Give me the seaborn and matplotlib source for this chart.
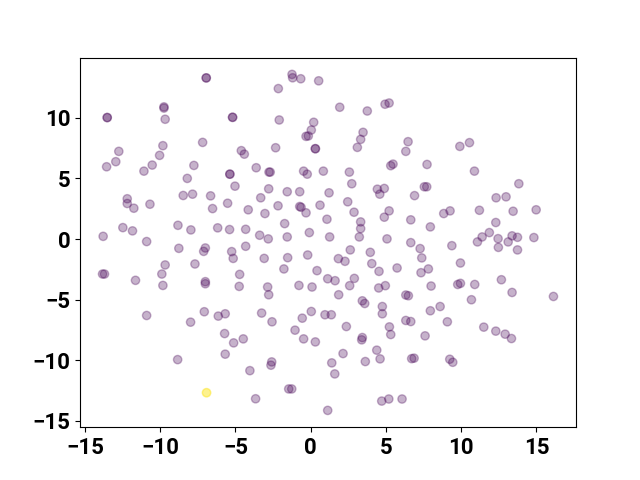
import matplotlib
matplotlib.use("Agg")
import matplotlib.pyplot as plt
import seaborn as sns
import pandas as pd
import numpy as np

xs = [
 -6.94,-6.94,-9.75,-9.75,-9.67,-13.52,-13.52,-5.19,-5.19,-7.18,-9.82,-10.04,-12.75,-12.95,-13.56,-10.53,-11.08,-7.76,-8.2,-4.61,-4.41,-5.37,-5.37,-5.03,-12.19,-12.19,-11.75,-10.68,-8.47,-7.85,-6.65,-5.52,-6.52,-4.15,-13.79,-12.48,-11.84,-10.9,-8.82,-7.96,-6.18,-5.39,-4.32,
 -1.24,-1.2,-0.66,0.53,-2.15,1.93,3.76,4.94,5.21,-2.09,0.2,0.04,-0.31,-0.16,0.31,0.31,3.48,3.32,3.1,6.47,6.32,-2.33,-3.62,-2.77,-2.69,-0.47,-0.23,0.84,2.57,2.73,5.32,5.47,4.43,4.89,4.59,6.9,-2.79,-3.32,-1.56,-0.73,1.22,-3.04,-2.17,-0.73,-0.64,-0.31,0.62,2.46,2.88,1.08,-1.73,-0.09,-3.39,-2.82,-1.56,1.26,3.32,3.32,3.23,4.89,5.21,5.07,6.65,6.65,
 9.91,10.55,7.73,10.88,7.55,7.71,13.83,12.32,12.98,8.84,9.26,11.21,13.45,14.98,7.95,12.3,11.87,11.39,11.08,12.45,13.38,13.74,13.12,14.83,
 -8.76,-7.0,-7.11,-5.25,-5.15,-4.32,-13.83,-13.7,-11.64,-9.67,-9.89,-9.82,-7.69,-7.0,-7.0,-4.72,-4.75,-10.9,-7.98,-7.07,-6.14,-5.68,-5.72,-5.12,-4.48,-5.68,-8.84,-4.04,
 -3.09,-1.53,-0.2,-1.78,0.42,1.84,2.28,2.63,3.96,4.06,4.54,5.74,-2.86,-2.79,-0.78,0.09,1.13,1.62,2.9,2.59,1.86,4.52,4.96,3.43,3.59,4.76,4.76,6.32,6.49,6.32,6.65,-3.26,-2.57,-1.04,-0.56,0.04,-0.47,0.31,0.95,1.37,2.37,3.43,3.39,5.23,5.32,4.39,4.61,2.15,3.63,1.4,1.6,6.71,6.87,-2.59,-2.64,-1.46,-1.26,-3.66,1.13,4.72,5.19,6.07,
 7.27,9.38,12.47,13.74,7.38,7.33,7.82,9.95,8.0,9.77,9.95,10.9,12.67,13.38,16.13,10.68,7.95,8.6,9.08,7.6,11.5,12.3,12.92,13.34,9.24,9.44,
 -6.92,-6.92,
]
ys = [
 13.29,13.29,10.9,10.8,9.88,10.02,10.02,10.04,10.04,7.97,7.70,6.9,7.23,6.38,5.96,6.1,5.6,6.07,5.0,7.29,7.0,5.35,5.35,4.36,3.32,2.93,2.54,2.87,3.59,3.7,3.56,2.95,2.51,2.41,0.22,0.94,0.67,-0.21,1.13,0.75,0.92,0.78,0.8,
 13.58,13.3,13.22,13.05,12.41,10.87,10.56,11.12,11.22,9.82,9.63,8.99,8.47,8.5,7.45,7.45,8.8,8.22,7.56,8.03,7.23,7.53,5.88,5.52,5.52,5.6,5.35,5.6,5.52,4.56,6.05,6.18,4.11,4.17,3.7,3.58,4.14,3.4,3.9,3.9,3.81,2.1,2.74,2.68,2.62,2.16,2.79,3.07,2.21,1.63,1.27,0.53,0.31,0.01,0.17,0.17,1.41,0.86,0.17,1.8,2.32,0.01,1.58,-0.3,
 7.64,7.95,6.15,5.6,4.31,4.31,4.56,3.4,3.48,2.1,2.32,2.37,2.29,2.41,1.0,1.36,0.53,0.17,-0.24,0.03,0.26,0.14,-0.24,0.12,
 -0.77,-0.74,-1.02,-1.04,-1.6,-0.6,-2.89,-2.89,-3.41,-2.14,-2.89,-3.83,-2.06,-3.52,-3.69,-2.92,-3.91,-6.31,-6.86,-6.0,-6.36,-6.17,-7.8,-8.57,-8.24,-9.5,-9.95,-10.86,
 -1.6,-1.54,-1.32,-2.47,-2.61,-1.62,-1.84,-0.9,-1.1,-2.03,-2.67,-2.39,-3.96,-4.6,-3.83,-3.96,-3.28,-3.44,-3.25,-3.85,-4.6,-4.04,-3.85,-5.1,-5.32,-5.57,-6.17,-4.62,-4.68,-6.72,-6.81,-6.11,-6.83,-7.52,-6.53,-5.98,-8.24,-8.49,-6.25,-6.25,-7.22,-8.13,-8.32,-7.25,-7.88,-9.17,-9.89,-9.45,-10.11,-10.22,-11.13,-9.87,-9.83,-10.14,-10.41,-12.37,-12.37,-13.18,-14.14,-13.37,-13.2,-13.2,
 -0.79,-0.55,-0.69,-0.9,-1.56,-2.78,-2.47,-1.98,-3.88,-3.75,-3.66,-3.75,-3.36,-4.41,-4.74,-5.01,-5.92,-5.57,-6.83,-7.99,-7.27,-7.6,-7.85,-8.21,-9.92,-10.17,
 -12.68,-12.68,
]
labels = [0] * (len(xs) - 2) + [1, 1]

df = pd.DataFrame({"x": xs, "y": ys, "label": labels})

plt.rcParams["font.family"] = ["Roboto", "DejaVu Sans"]
plt.rcParams["font.weight"] = "bold"

fig, ax = plt.subplots(figsize=(6.4, 4.8), dpi=100)
cmap = matplotlib.colormaps["viridis"]
palette = {0: cmap(0.0), 1: cmap(1.0)}
sns.scatterplot(data=df, x="x", y="y", hue="label", palette=palette, s=36,
                alpha=0.3, edgecolor="face", linewidth=1.0, legend=False, ax=ax)
ax.set_xlabel("")
ax.set_ylabel("")
ax.tick_params(labelsize=16)
for t in ax.get_xticklabels() + ax.get_yticklabels():
    t.set_fontweight("bold")
fig.savefig("out.png", dpi=100)
